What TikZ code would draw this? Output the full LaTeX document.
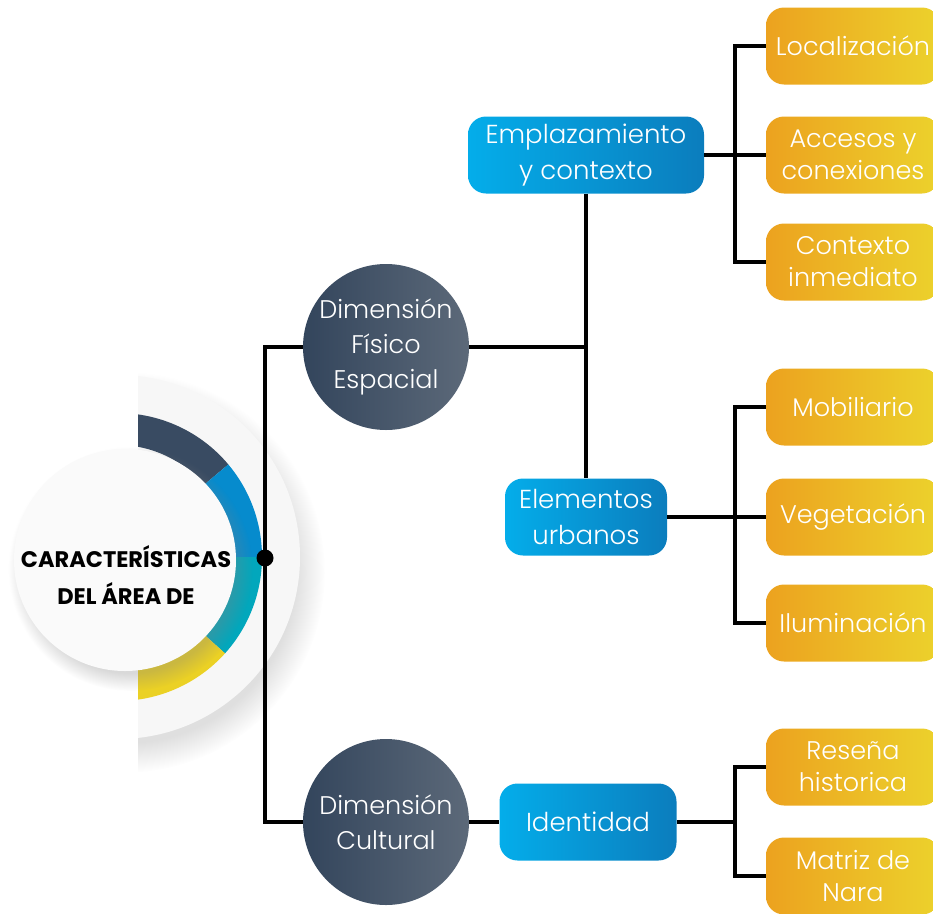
\documentclass[tikz,border=0pt]{standalone}
\usepackage{fontspec}
\setmainfont{Poppins}[UprightFont=* Light, BoldFont=* Bold]
\usepackage{tikz}
\usetikzlibrary{shadows,positioning}

\definecolor{slateL}{HTML}{33455C}
\definecolor{slateR}{HTML}{5C6979}
\definecolor{blueL}{HTML}{04ADEA}
\definecolor{blueR}{HTML}{0B7DBD}
\definecolor{orangeL}{HTML}{ECA21F}
\definecolor{orangeR}{HTML}{ECD22C}
\definecolor{ringdark}{HTML}{394B62}
\definecolor{ringblue}{HTML}{068BCD}
\definecolor{ringteal}{HTML}{02A7BC}
\definecolor{ringyellow}{HTML}{EBD125}

\tikzset{
  dimcircle/.style={circle, minimum size=166pt, inner sep=0pt, left color=slateL, right color=slateR, text=white, align=center, font=\fontsize{25.5}{35}\selectfont},
  bluebox/.style={rounded corners=18pt, minimum height=77pt, left color=blueL, right color=blueR, text=white, align=center, font=\fontsize{26}{36}\selectfont},
  orangebox/.style={rounded corners=18pt, minimum width=174pt, minimum height=77pt, left color=orangeL, right color=orangeR, text=white, align=center, font=\fontsize{25.5}{32}\selectfont},
  link/.style={line width=3.2pt, black}
}

\begin{document}
\begin{tikzpicture}[x=1pt,y=1pt]
\useasboundingbox (0,0) rectangle (933,-913);

% disco gris y anillo de colores
\coordinate (C) at (118,-557);
\begin{scope}
\clip (138,0) rectangle (400,-913);
\fill[gray!6, circular drop shadow={shadow xshift=6pt, shadow yshift=-14pt, opacity=0.25}] (C) circle (182);
\fill[ringdark] (C) ++(90:144) arc[start angle=90, end angle=40, radius=144] -- ([shift={(40:112)}]C) arc[start angle=40, end angle=90, radius=112] -- cycle;
\fill[ringblue] (C) ++(40:144) arc[start angle=40, end angle=0, radius=144] -- ([shift={(0:112)}]C) arc[start angle=0, end angle=40, radius=112] -- cycle;
\fill[ringteal] (C) ++(0:144) arc[start angle=0, end angle=-42, radius=144] -- ([shift={(-42:112)}]C) arc[start angle=-42, end angle=0, radius=112] -- cycle;
\fill[ringyellow] (C) ++(-42:144) arc[start angle=-42, end angle=-90, radius=144] -- ([shift={(-90:112)}]C) arc[start angle=-90, end angle=-42, radius=112] -- cycle;
\end{scope}
\fill[gray!4, circular drop shadow={shadow xshift=5pt, shadow yshift=-8pt, opacity=0.3}] (125,-560) circle (111);

% nodos
\node[font=\bfseries\fontsize{22.5}{37}\selectfont, align=center] (title) at (126,-575) {CARACTERÍSTICAS\\DEL ÁREA DE};

\node[dimcircle] (dfe) at (386,-347) {Dimensión\\Físico\\Espacial};
\node[dimcircle] (dc) at (386,-822) {Dimensión\\Cultural};

\node[bluebox, minimum width=236pt] (emp) at (586,-155) {Emplazamiento\\y contexto};
\node[bluebox, minimum width=162pt] (elem) at (586,-517) {Elementos\\urbanos};
\node[bluebox, minimum width=177pt] (iden) at (588,-822) {Identidad};

\node[orangebox] (loc) at (853,-46) {Localización};
\node[orangebox] (acc) at (853,-155) {Accesos y\\conexiones};
\node[orangebox] (ctx) at (853,-262) {Contexto\\inmediato};
\node[orangebox] (mob) at (853,-407) {Mobiliario};
\node[orangebox] (veg) at (853,-517) {Vegetación};
\node[orangebox] (ilu) at (853,-623) {Iluminación};
\node[orangebox] (res) at (853,-767) {Reseña\\historica};
\node[orangebox] (mat) at (853,-876) {Matriz de\\Nara};

% conectores
\coordinate (hub) at (265,-558);
\coordinate (t1) at (735,-155);
\coordinate (t2) at (735,-517);
\coordinate (t3) at (735,-822);

\draw[link] (dfe.west) -| (hub) |- (dc.west);
\fill (hub) circle (8.5);

\draw[link] (dfe.east) -- (dfe.east -| emp.south);
\draw[link] (emp.south) -- (elem.north);
\draw[link] (dc.east) -- (iden.west);

\draw[link] (emp.east) -- (t1);
\draw[link] (loc.west) -| (t1) |- (ctx.west);
\draw[link] (t1) -- (acc.west);

\draw[link] (elem.east) -- (t2);
\draw[link] (mob.west) -| (t2) |- (ilu.west);
\draw[link] (t2) -- (veg.west);

\draw[link] (iden.east) -- (t3);
\draw[link] (res.west) -| (t3) |- (mat.west);
\end{tikzpicture}
\end{document}
